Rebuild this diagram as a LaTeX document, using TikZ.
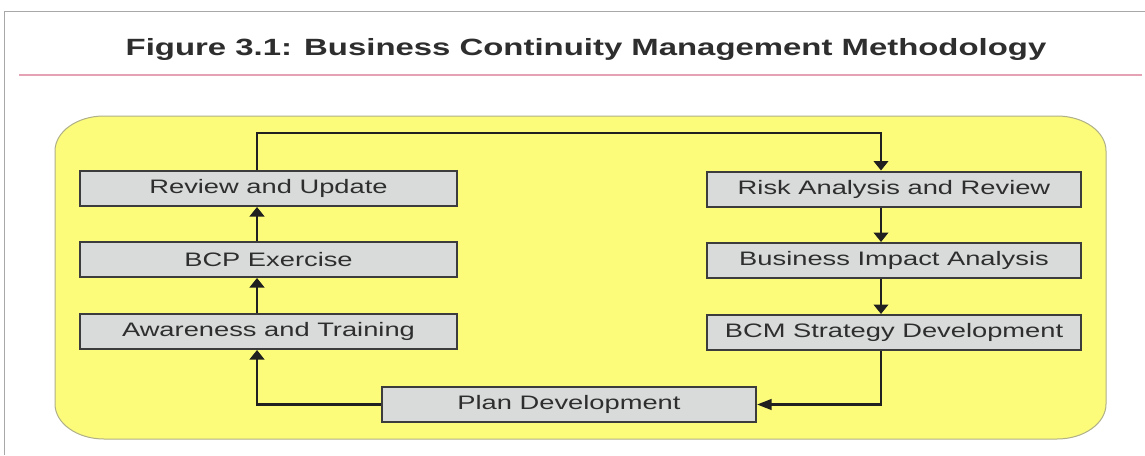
\documentclass[tikz,border=0pt]{standalone}
\usepackage{fontspec}
\usetikzlibrary{arrows.meta}
\newfontfamily\boxfont[FakeStretch=1.4]{Liberation Sans}
\newfontfamily\titlefont[FakeStretch=1.4]{Liberation Sans}
\definecolor{bgyellow}{HTML}{FCFC7A}
\definecolor{yborder}{HTML}{B0B088}
\definecolor{boxfill}{HTML}{D8DBDA}
\definecolor{boxline}{HTML}{3C3C3C}
\definecolor{txt}{HTML}{2E2E2E}
\definecolor{framegray}{HTML}{A8A8A8}
\definecolor{pinkline}{HTML}{E4A2B4}
\definecolor{connline}{HTML}{202020}
\tikzset{
  stepbox/.style={draw=boxline, line width=2pt, fill=boxfill, inner sep=0pt,
    minimum height=35pt, text=txt, font=\boxfont\fontsize{19.5pt}{23pt}\selectfont},
  leftbox/.style={stepbox, minimum width=377pt},
  rightbox/.style={stepbox, minimum width=374pt},
  vconn/.style={draw=connline, line width=2.4pt, -{Triangle[length=9.5pt,width=14.5pt]}},
  hconn/.style={draw=connline, line width=2.4pt, -{Triangle[length=14.5pt,width=10.5pt]}}
}
\begin{document}
\begin{tikzpicture}[x=1pt,y=-1pt]
\useasboundingbox (0,0) rectangle (1145,455);
\fill[white] (0,0) rectangle (1145,455);
% outer frame
\draw[framegray, line width=1pt] (4.5,455) -- (4.5,11) -- (1145,11);
% title
\node[anchor=base, text=txt, inner sep=0pt, font=\titlefont\bfseries\fontsize{23.5pt}{28pt}\selectfont] (title) at (586,55) {Figure 3.1: Business Continuity Management Methodology};
% pink rule
\draw[pinkline, line width=1.2pt] (19,75) -- (1142,75);
% yellow rounded panel (elliptical corners)
\draw[yborder, line width=1pt, fill=bgyellow]
  (55,151) .. controls (55,131.7) and (77,116) .. (104,116)
  -- (1057,116) .. controls (1084,116) and (1106,131.7) .. (1106,151)
  -- (1106,404) .. controls (1106,423.3) and (1084,439) .. (1057,439)
  -- (104,439) .. controls (77,439) and (55,423.3) .. (55,404) -- cycle;
% boxes
\node[leftbox] (r1) at (268.5,188.5) {Review and Update};
\node[leftbox] (r2) at (268.5,259.5) {BCP Exercise};
\node[leftbox] (r3) at (268.5,331.5) {Awareness and Training};
\node[rightbox] (k1) at (894,189) {Risk Analysis and Review};
\node[rightbox] (k2) at (894,260.5) {Business Impact Analysis};
\node[rightbox] (k3) at (894,332.5) {BCM Strategy Development};
\node[rightbox] (p) at (569,404.5) {Plan Development};
% connector guides
\coordinate (lx) at (257,0);
\coordinate (rx) at (881,0);
\coordinate (topy) at (0,133);
% connectors
\draw[vconn] (lx |- r1.north) -- (lx |- topy) -- (rx |- topy) -- (rx |- k1.north);
\draw[vconn] (rx |- k1.south) -- (rx |- k2.north);
\draw[vconn] (rx |- k2.south) -- (rx |- k3.north);
\draw[hconn] (rx |- k3.south) |- (p.east);
\draw[vconn] (p.west) -| (lx |- r3.south);
\draw[vconn] (lx |- r3.north) -- (lx |- r2.south);
\draw[vconn] (lx |- r2.north) -- (lx |- r1.south);
\end{tikzpicture}
\end{document}
